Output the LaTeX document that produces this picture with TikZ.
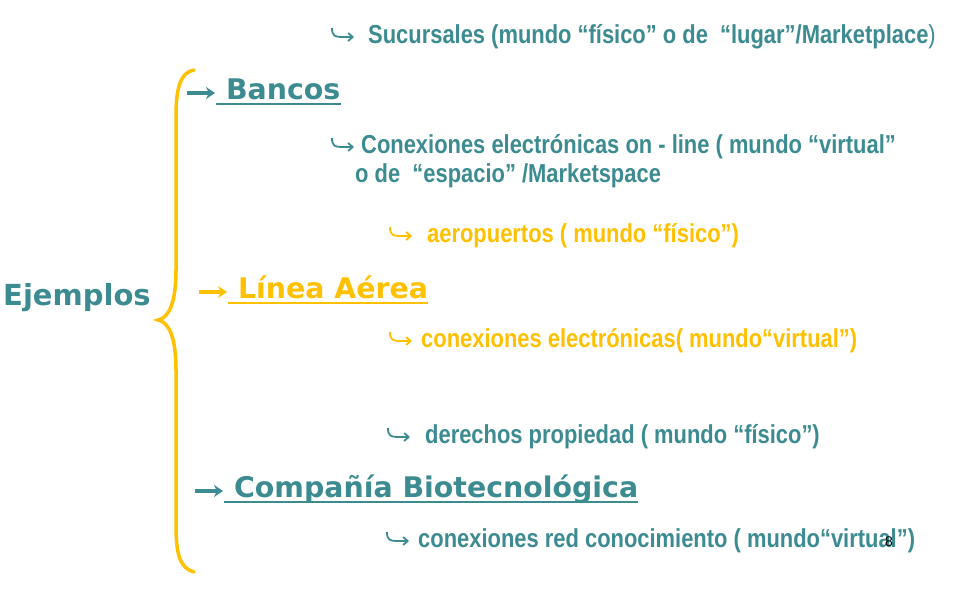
\documentclass[tikz,border=0pt]{standalone}
\usepackage{fontspec}
\setmainfont{Liberation Sans}
\newfontfamily\subfont[FakeStretch=0.843]{Liberation Sans}
\newfontfamily\headfont{DejaVu Sans}
\usetikzlibrary{arrows.meta}
\definecolor{tealtxt}{RGB}{59,139,145}
\definecolor{yeltxt}{RGB}{255,192,0}

\begin{document}
\begin{tikzpicture}[x=1pt,y=-1pt]
\useasboundingbox (0,0) rectangle (972,608);
\tikzstyle{every node}=[inner sep=0pt,anchor=base west];
\tikzstyle{sub}=[font=\subfont\bfseries\fontsize{26}{30}\selectfont];
\tikzstyle{head}=[font=\headfont\bfseries\fontsize{28.4}{32}\selectfont];
% hooked bullet: node, gap to text, colour
\newcommand{\hookarr}[3]{%
  \draw[#3,line width=1.8pt,-{Straight Barb[length=4.5pt,width=8pt]}]
    ([shift={(-#2,-15)}]#1.base west) .. controls +(0,8) and +(-7,0) .. ++(10,9) -- ++(12,0);}
% straight bullet and underline of a heading
\newcommand{\headarr}[2]{%
  \draw[#2,line width=3.5pt,-{Stealth[length=9pt,width=12pt]}]
    ([shift={(-29,-6)}]#1.base west) -- ([shift={(-1,-6)}]#1.base west);
  \draw[#2,line width=2pt] ([yshift=-4.5pt]#1.base west) -- ([yshift=-4.5pt]#1.base east);}

% left label and brace
\node[font=\headfont\bfseries\fontsize{29}{34}\selectfont,tealtxt] (ejem) at (3,305) {Ejemplos};
\draw[yeltxt,line width=3.5pt,line cap=round]
  (194,70) .. controls (180,72) and (176,90) .. (176,115) -- (176,270)
  .. controls (176,305) and (168,318) .. (158,320)
  .. controls (168,322) and (176,335) .. (176,370) -- (176,525)
  .. controls (176,555) and (180,568) .. (194,572);

% Bancos
\node[sub,tealtxt] (suc) at (368,43) {Sucursales (mundo “físico” o de\ \ “lugar”/Marketplace{\mdseries)}};
\node[head,tealtxt] (bancos) at (216,99) {\ Bancos};
\node[sub,tealtxt] (con) at (361,153) {Conexiones electrónicas on - line ( mundo “virtual”};
\node[sub,tealtxt] (con2) at (355,182) {o de\ \ “espacio” /Marketspace};
\hookarr{suc}{36}{tealtxt}
\hookarr{con}{29}{tealtxt}
\headarr{bancos}{tealtxt}

% Linea Aerea
\node[sub,yeltxt] (aero) at (427,242) {aeropuertos ( mundo “físico”)};
\node[head,yeltxt] (linea) at (228,298) {\ Línea Aérea};
\node[sub,yeltxt] (celec) at (421,347) {conexiones electrónicas( mundo“virtual”)};
\hookarr{aero}{37}{yeltxt}
\hookarr{celec}{31}{yeltxt}
\headarr{linea}{yeltxt}

% Compania
\node[sub,tealtxt] (der) at (425,443) {derechos propiedad ( mundo “físico”)};
\node[head,tealtxt] (bio) at (224,497) {\ Compañía Biotecnológica};
\node[sub,tealtxt] (red) at (418,547) {conexiones red conocimiento ( mundo“virtual”)};
\hookarr{der}{37}{tealtxt}
\hookarr{red}{31}{tealtxt}
\headarr{bio}{tealtxt}

\node[font=\fontsize{14}{16}\selectfont,anchor=center] (pg) at (889,542) {8};
\end{tikzpicture}
\end{document}
